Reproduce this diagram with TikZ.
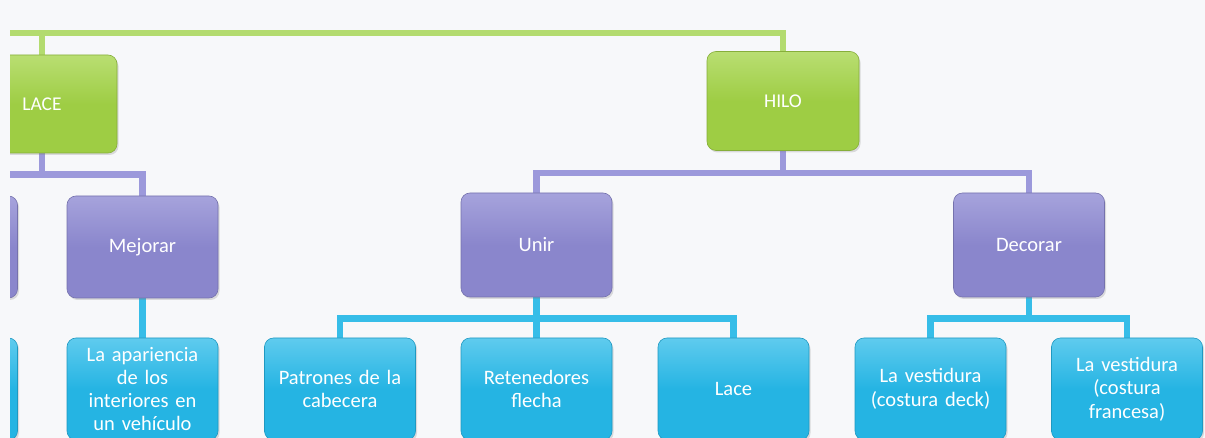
\documentclass[tikz,border=0pt]{standalone}
\usepackage{fontspec}
\setmainfont{Carlito}
\usetikzlibrary{shadows}

\definecolor{bg}{HTML}{F7F8FA}
\definecolor{grnBox}{HTML}{9ECD44}
\definecolor{grnTop}{HTML}{B9DE72}
\definecolor{grnLine}{HTML}{B3DB6F}
\definecolor{purBox}{HTML}{8A86CC}
\definecolor{purTop}{HTML}{A6A3DC}
\definecolor{purLine}{HTML}{9C99DB}
\definecolor{cyaBox}{HTML}{25B4E3}
\definecolor{cyaTop}{HTML}{5FCBEE}
\definecolor{cyaLine}{HTML}{36BDE8}

\pgfdeclarelayer{links}
\pgfsetlayers{links,main}

\tikzset{
  box/.style={rounded corners=9pt, minimum width=151pt, minimum height=102pt,
    text width=146pt, align=center, text=white, inner sep=2pt,
    font=\fontsize{20.5}{23.5}\selectfont,
    drop shadow={shadow xshift=1.5pt, shadow yshift=-2pt, opacity=0.25}},
  lvOne/.style={box, top color=grnTop, bottom color=grnBox, middle color=grnBox,
    draw=grnBox!85!black, line width=0.6pt, font=\fontsize{19.5}{23}\selectfont},
  lvTwo/.style={box, top color=purTop, bottom color=purBox, middle color=purBox,
    draw=purBox!85!black, line width=0.6pt},
  lvThree/.style={box, top color=cyaTop, bottom color=cyaBox, middle color=cyaBox,
    draw=cyaBox!85!black, line width=0.6pt},
  link/.style={line width=6.5pt, line join=miter},
}

\begin{document}
\begin{tikzpicture}[x=1pt, y=-1pt]
  \useasboundingbox (0,0) rectangle (1205,438);
  \begin{pgfonlayer}{links}
    \fill[bg] (0,0) rectangle (1205,438);
  \end{pgfonlayer}
  \clip (10,0) rectangle (1205,438);

  % first level
  \node[lvOne, minimum width=148pt, minimum height=98pt] (lace) at (42,104) {LACE};
  \node[lvOne, minimum width=152pt, minimum height=99pt] (hilo) at (783,101) {HILO};
  \coordinate (rootleft) at (-120,33);

  % second level
  \node[lvTwo] (prev) at (-58,247) {};
  \node[lvTwo] (mejorar) at (142.5,247) {Mejorar};
  \node[lvTwo, minimum height=104pt] (unir) at (536.5,245) {Unir};
  \node[lvTwo, minimum height=104pt] (decorar) at (1029,245) {Decorar};

  % third level
  \node[lvThree] (prevleaf) at (-58,389) {};
  \node[lvThree, font=\fontsize{20.5}{23.3}\selectfont] (apariencia) at (142.5,389) {La apariencia\\de los\\interiores en\\un vehículo};
  \node[lvThree] (patrones) at (340,389) {Patrones de la\\cabecera};
  \node[lvThree] (retenedores) at (536.5,389) {Retenedores\\flecha};
  \node[lvThree] (lacehilo) at (733.5,389) {Lace};
  \node[lvThree] (deck) at (930.5,389) {La vestidura\\(costura deck)};
  \node[lvThree] (francesa) at (1127,389) {La vestidura\\(costura\\francesa)};

  % connectors, drawn behind the boxes
  \begin{pgfonlayer}{links}
  \clip (10,0) rectangle (1205,438);
  \draw[link, grnLine] (rootleft) -| (hilo.north);
  \draw[link, grnLine] (lace.north) -- (lace.north |- rootleft);

  \draw[link, purLine] (lace.south) -- ++(0,21) coordinate (busA);
  \draw[link, purLine] (prev.north) |- (busA) -| (mejorar.north);

  \draw[link, purLine] (hilo.south) -- ++(0,22) coordinate (busB);
  \draw[link, purLine] (unir.north) |- (busB) -| (decorar.north);

  \draw[link, cyaLine] (mejorar.south) -- (apariencia.north);

  \draw[link, cyaLine] (unir.south) -- ++(0,21) coordinate (busC);
  \draw[link, cyaLine] (patrones.north) |- (busC) -| (lacehilo.north);
  \draw[link, cyaLine] (busC) -- (retenedores.north);

  \draw[link, cyaLine] (decorar.south) -- ++(0,21) coordinate (busD);
  \draw[link, cyaLine] (deck.north) |- (busD) -| (francesa.north);
  \end{pgfonlayer}
\end{tikzpicture}
\end{document}
